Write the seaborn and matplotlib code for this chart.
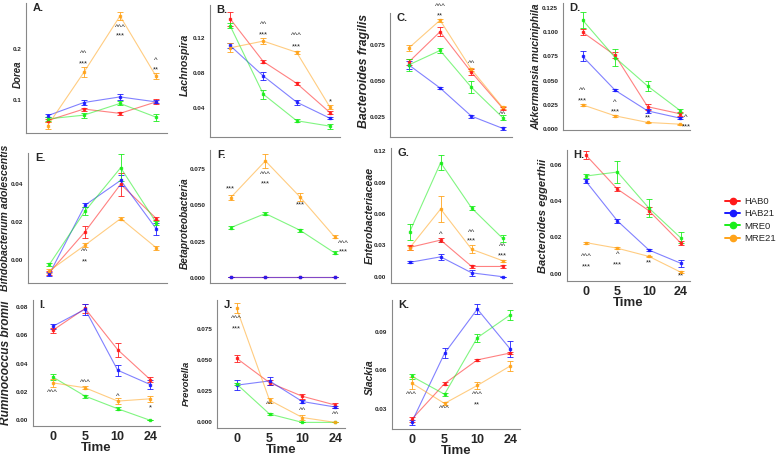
import numpy as np
import pandas as pd
import seaborn as sns
import matplotlib.pyplot as plt
from matplotlib.lines import Line2D

sns.set_style("white")
plt.rcParams['font.family'] = ['Liberation Sans', 'DejaVu Sans']

groups = ['HAB0', 'HAB21', 'MRE0', 'MRE21']
colors = ['#ff1a1a', '#1a1aff', '#1aee1a', '#ffa31a']
times = ['0', '5', '10', '24']

# means per group (HAB0, HAB21, MRE0, MRE21), errors alike
dorea_mean = [[0.0594, 0.082, 0.0735, 0.096], [0.069, 0.0948, 0.1058, 0.096],
              [0.0626, 0.070, 0.093, 0.066], [0.0497, 0.154, 0.2645, 0.146]]
dorea_err = [[0.003, 0.003, 0.003, 0.005], [0.003, 0.004, 0.006, 0.003],
             [0.004, 0.005, 0.004, 0.007], [0.006, 0.010, 0.008, 0.006]]

lachno_mean = [[0.1415, 0.0927, 0.068, 0.0347], [0.111, 0.0763, 0.0466, 0.0283],
               [0.1337, 0.0556, 0.0255, 0.0193], [0.1083, 0.116, 0.1032, 0.0408]]
lachno_err = [[0.008, 0.002, 0.002, 0.002], [0.003, 0.005, 0.003, 0.001],
              [0.003, 0.005, 0.002, 0.003], [0.005, 0.003, 0.002, 0.002]]

bfrag_mean = [[0.063, 0.084, 0.056, 0.031], [0.061, 0.045, 0.0255, 0.017],
              [0.061, 0.071, 0.0455, 0.0245], [0.0727, 0.092, 0.058, 0.0315]]
bfrag_err = [[0.002, 0.003, 0.002, 0.001], [0.003, 0.001, 0.001, 0.001],
             [0.004, 0.002, 0.004, 0.002], [0.002, 0.001, 0.001, 0.001]]

akk_mean = [[0.100, 0.076, 0.023, 0.0157], [0.075, 0.040, 0.0187, 0.0112],
            [0.1125, 0.0737, 0.0443, 0.019], [0.025, 0.0136, 0.0068, 0.005]]
akk_err = [[0.003, 0.003, 0.003, 0.002], [0.005, 0.001, 0.002, 0.001],
           [0.008, 0.009, 0.005, 0.002], [0.001, 0.001, 0.0005, 0.0005]]

bifido_mean = [[-0.0066, 0.0148, 0.0397, 0.0217], [-0.0073, 0.0287, 0.0417, 0.0163],
               [-0.0023, 0.0256, 0.0483, 0.0195], [-0.0056, 0.0078, 0.0217, 0.0064]]
bifido_err = [[0.001, 0.003, 0.006, 0.001], [0.001, 0.001, 0.003, 0.003],
              [0.001, 0.002, 0.007, 0.001], [0.001, 0.001, 0.001, 0.001]]

beta_mean = [[0.0005, 0.0005, 0.0005, 0.0005], [0.0007, 0.0007, 0.0007, 0.0007],
             [0.0346, 0.0443, 0.0328, 0.0172], [0.0553, 0.0805, 0.0557, 0.0282]]
beta_err = [[0.0, 0.0, 0.0, 0.0], [0.0, 0.0, 0.0, 0.0],
            [0.001, 0.001, 0.001, 0.001], [0.002, 0.005, 0.003, 0.001]]

entero_mean = [[0.028, 0.035, 0.0098, 0.0098], [0.0137, 0.019, 0.0037, 0.0],
               [0.0427, 0.109, 0.0656, 0.0366], [0.0275, 0.0647, 0.0262, 0.0153]]
entero_err = [[0.002, 0.002, 0.001, 0.001], [0.001, 0.003, 0.003, 0.0],
              [0.008, 0.007, 0.002, 0.003], [0.002, 0.012, 0.004, 0.001]]

egg_mean = [[0.0652, 0.0465, 0.0346, 0.017], [0.0508, 0.029, 0.013, 0.0058],
            [0.0537, 0.0559, 0.036, 0.0198], [0.0171, 0.014, 0.0095, 0.0009]]
egg_err = [[0.002, 0.001, 0.002, 0.001], [0.001, 0.001, 0.0005, 0.002],
           [0.001, 0.006, 0.005, 0.003], [0.0005, 0.0005, 0.0005, 0.0005]]

rumino_mean = [[0.0635, 0.079, 0.0499, 0.0288], [0.0663, 0.0785, 0.0354, 0.0253],
               [0.0307, 0.0171, 0.0082, 0.0], [0.0265, 0.023, 0.0136, 0.0152]]
rumino_err = [[0.002, 0.003, 0.005, 0.002], [0.002, 0.004, 0.004, 0.003],
              [0.002, 0.001, 0.001, 0.0], [0.003, 0.001, 0.002, 0.002]]

prev_mean = [[0.0513, 0.0318, 0.0209, 0.0139], [0.0298, 0.0332, 0.0167, 0.0123],
             [0.0307, 0.0067, 0.0, 0.0], [0.0912, 0.0178, 0.0039, 0.0]]
prev_err = [[0.003, 0.002, 0.002, 0.002], [0.004, 0.003, 0.001, 0.001],
            [0.001, 0.001, 0.0, 0.0], [0.004, 0.002, 0.002, 0.0]]

slack_mean = [[0.0215, 0.0495, 0.0681, 0.0735], [0.0193, 0.0732, 0.1079, 0.0767],
              [0.0553, 0.0412, 0.0855, 0.1033], [0.050, 0.034, 0.0481, 0.0633]]
slack_err = [[0.002, 0.001, 0.001, 0.001], [0.002, 0.004, 0.004, 0.006],
             [0.002, 0.001, 0.003, 0.004], [0.005, 0.001, 0.003, 0.004]]

# significance marks: (time index, y, text)
dorea_marks = [(1, 0.190, '^^'), (1, 0.170, '***'), (2, 0.241, '^^^'), (2, 0.225, '***'),
               (3, 0.177, '^'), (3, 0.159, '**')]
lachno_marks = [(1, 0.1344, '^^'), (1, 0.1227, '***'), (2, 0.122, '^^^'), (2, 0.1095, '***'),
                (3, 0.0466, '*')]
bfrag_marks = [(1, 0.1016, '^^^'), (1, 0.095, '**'), (2, 0.0617, '^^'), (3, 0.0266, '^^')]
akk_marks = [(0, 0.0395, '^^'), (0, 0.029, '***'), (1, 0.0276, '^'), (1, 0.018, '***'),
             (2, 0.012, '**'), (3.18, 0.0118, '^'), (3.18, 0.0027, '***')]
bifido_marks = [(1, 0.0043, '^^'), (1, -0.0009, '**')]
beta_marks = [(0, 0.061, '***'), (1, 0.071, '^^^'), (1, 0.065, '***'), (2, 0.050, '***'),
              (3.25, 0.024, '^^^'), (3.25, 0.018, '***')]
entero_marks = [(1, 0.0406, '^'), (1, 0.0327, '*'), (2, 0.0427, '^^'), (2, 0.034, '***'),
                (3, 0.029, '^^'), (3, 0.0198, '***')]
egg_marks = [(0, 0.0094, '^^^'), (0, 0.004, '***'), (1, 0.0104, '^'), (1, 0.005, '***'),
             (2, 0.0058, '**'), (3, -0.0014, '**')]
rumino_marks = [(0, 0.020, '^^^'), (1, 0.0265, '^^^'), (2, 0.0171, '^'), (3, 0.0089, '*')]
prev_marks = [(0, 0.0828, '^^^'), (0, 0.075, '***'), (1, 0.0145, '^^'), (2, 0.0098, '^^'),
              (3, 0.0067, '^^')]
slack_marks = [(0, 0.0407, '^^^'), (1, 0.030, '^^^'), (2, 0.0407, '^^^'), (2, 0.0332, '**')]


def draw_panel(box, letter, ylabel, means, errs, marks, yticks, yfmt, ylim,
               xlabels=False, ylsize=8, lab_dx=-24, lab_y=0.5):
    l, t, r, b = box
    ax = fig.add_axes([l / 777, 1 - b / 458, (r - l) / 777, (b - t) / 458])
    rows = []
    for g, vals in zip(groups, means):
        for i, v in enumerate(vals):
            rows.append({'time': i, 'value': v, 'group': g})
    df = pd.DataFrame(rows)
    sns.lineplot(data=df, x='time', y='value', hue='group', palette=colors,
                 linewidth=0.8, alpha=0.55, legend=False, ax=ax)
    for c, vals, e in zip(colors, means, errs):
        ax.errorbar(range(4), vals, yerr=e, fmt='s', ms=1.8, color=c, ecolor=c,
                    elinewidth=0.7, capsize=2, capthick=0.7, alpha=0.85, zorder=3)
    for x, y, s in marks:
        ax.text(x, y, s, ha='center', va='center', fontsize=5.5, color='#222222')
    ax.set_xlim(-0.6, 3.3)
    ax.set_ylim(*ylim)
    ax.set_xticks(range(4))
    if xlabels:
        ax.set_xticklabels(times, fontsize=9, fontweight='bold')
        ax.set_xlabel('Time', fontsize=9.5, fontweight='bold', labelpad=-0.5)
    else:
        ax.set_xticklabels([])
        ax.set_xlabel('')
    ax.set_yticks(yticks)
    ax.set_yticklabels([yfmt.format(v) for v in yticks], fontsize=4.6, fontweight='bold')
    ax.set_ylabel(ylabel, fontsize=ylsize, fontstyle='italic', fontweight='bold')
    ax.yaxis.label.set_va('center')
    ax.yaxis.set_label_coords(lab_dx / (r - l), lab_y)
    ax.tick_params(axis='both', length=2, width=0.6, pad=1.5, color='#666666')
    sns.despine(ax=ax)
    for s in ['left', 'bottom']:
        ax.spines[s].set_color('#888888')
        ax.spines[s].set_linewidth(0.8)
    ax.text(0.05, 1.0, letter, transform=ax.transAxes, fontsize=8, fontweight='bold',
            va='top', ha='left')
    return ax


fig = plt.figure(figsize=(7.77, 4.58), dpi=100)

draw_panel((26, 3, 167, 133), 'A.', 'Dorea', dorea_mean, dorea_err, dorea_marks,
           [0.1, 0.2], '{:.1f}', (0.035, 0.29), ylsize=7, lab_dx=-8, lab_y=0.45)
draw_panel((210, 5, 340, 137), 'B.', 'Lachnospira', lachno_mean, lachno_err, lachno_marks,
           [0.04, 0.08, 0.12], '{:.2f}', (0.007, 0.157), ylsize=7.6, lab_dx=-25, lab_y=0.55)
draw_panel((390, 13, 512, 137), 'C.', 'Bacteroides fragilis', bfrag_mean, bfrag_err, bfrag_marks,
           [0.025, 0.05, 0.075], '{:.3f}', (0.011, 0.097), ylsize=8.8, lab_dx=-26, lab_y=0.53)
draw_panel((563, 3, 690, 130), 'D.', 'Akkermansia muciniphila', akk_mean, akk_err, akk_marks,
           [0, 0.025, 0.05, 0.075, 0.1, 0.125], '{:.3f}', (-0.001, 0.13),
           ylsize=7.6, lab_dx=-27)
draw_panel((28, 153, 167, 283), 'E.', 'Bifidobacterium adolescentis', bifido_mean, bifido_err,
           bifido_marks, [0.0, 0.02, 0.04], '{:.2f}', (-0.012, 0.056), ylsize=7.6, lab_dx=-23)
draw_panel((210, 150, 345, 283), 'F.', 'Betaproteobacteria', beta_mean, beta_err, beta_marks,
           [0.0, 0.025, 0.05, 0.075], '{:.3f}', (-0.0035, 0.088), ylsize=7.2, lab_dx=-25,
           lab_y=0.45)
draw_panel((391, 148, 512, 283), 'G.', 'Enterobacteriaceae', entero_mean, entero_err,
           entero_marks, [0.0, 0.03, 0.06, 0.09, 0.12], '{:.2f}', (-0.006, 0.123),
           ylsize=7.6, lab_dx=-21)
draw_panel((567, 150, 690, 281), 'H.', 'Bacteroides eggerthii', egg_mean, egg_err, egg_marks,
           [0.0, 0.02, 0.04, 0.06], '{:.2f}', (-0.004, 0.068), xlabels=True,
           ylsize=8, lab_dx=-24)
draw_panel((33, 300, 160, 426), 'I.', 'Ruminococcus bromii', rumino_mean, rumino_err,
           rumino_marks, [0.0, 0.02, 0.04, 0.06, 0.08], '{:.2f}', (-0.004, 0.085),
           xlabels=True, ylsize=8.6, lab_dx=-27)
draw_panel((217, 300, 345, 428), 'J.', 'Prevotella', prev_mean, prev_err, prev_marks,
           [0.0, 0.025, 0.05, 0.075], '{:.3f}', (-0.0045, 0.098), xlabels=True,
           ylsize=6.8, lab_dx=-31, lab_y=0.35)
draw_panel((392, 300, 520, 429), 'K.', 'Slackia', slack_mean, slack_err, slack_marks,
           [0.03, 0.06, 0.09], '{:.2f}', (0.014, 0.115), xlabels=True,
           ylsize=7.5, lab_dx=-22, lab_y=0.4)

handles = [Line2D([0], [0], color=c, marker='o', ms=4.5, lw=1.4) for c in colors]
fig.legend(handles, groups, loc='center left', bbox_to_anchor=(725 / 777, 1 - 220 / 458),
           frameon=False, fontsize=6.8, handlelength=1.6, handletextpad=0.4,
           labelspacing=0.35, borderaxespad=0, borderpad=0)

fig.savefig('out.png', dpi=100)
